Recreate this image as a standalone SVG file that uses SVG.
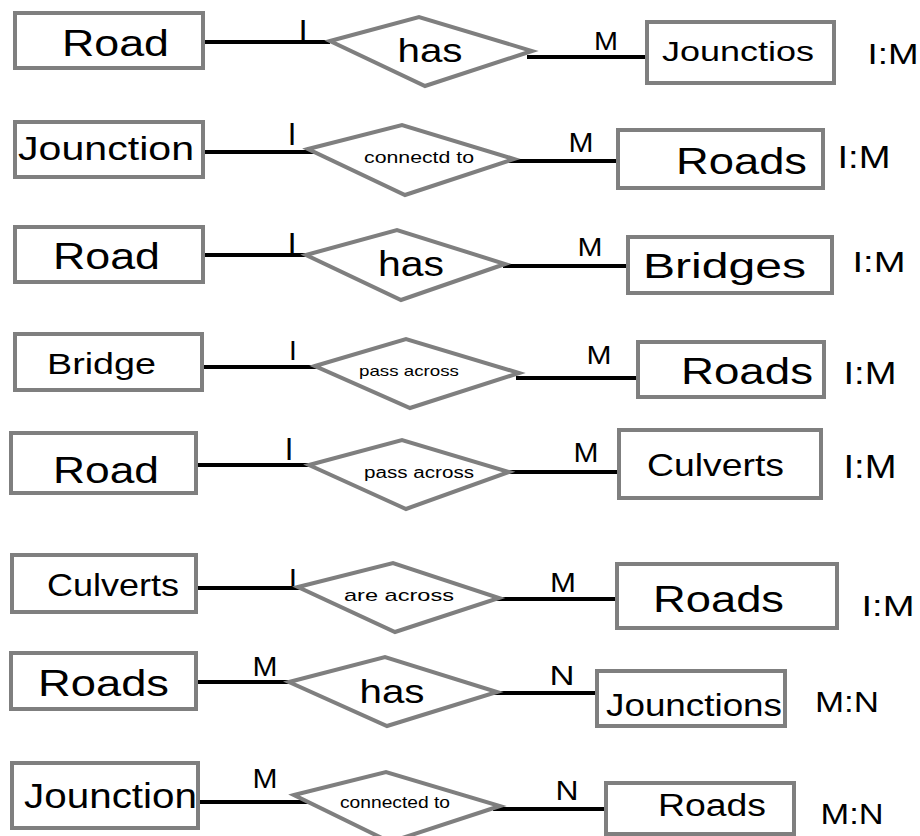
<svg xmlns="http://www.w3.org/2000/svg" width="920" height="836" viewBox="0 0 920 836">
<style>
.ent rect{fill:#fff;stroke:#7f7f7f;stroke-width:4}
.rel polygon{fill:#fff;stroke:#7f7f7f;stroke-width:4;stroke-linejoin:miter}
#connectors line{stroke:#000;stroke-width:4}
text{font-family:"Liberation Sans",Arial,sans-serif;fill:#000}
.lbl{text-anchor:middle}
</style>
<rect width="920" height="836" fill="#fff"/>
<g id="connectors">
<line x1="203" y1="42" x2="330" y2="42"/><line x1="527" y1="57" x2="648" y2="57"/>
<line x1="203" y1="152" x2="328" y2="152"/><line x1="503" y1="161" x2="625" y2="161"/>
<line x1="202" y1="255" x2="325" y2="255"/><line x1="503" y1="266" x2="630" y2="266"/>
<line x1="202" y1="367" x2="323" y2="367"/><line x1="516" y1="378" x2="639" y2="378"/>
<line x1="196" y1="465" x2="320" y2="465"/><line x1="504" y1="472" x2="625" y2="472"/>
<line x1="194" y1="588" x2="314" y2="588"/><line x1="496" y1="599" x2="616" y2="599"/>
<line x1="192" y1="682" x2="317" y2="682"/><line x1="481" y1="693" x2="601" y2="693"/>
<line x1="196" y1="802" x2="320" y2="802"/><line x1="493" y1="809" x2="616" y2="809"/>
</g>
<g id="card">
<text x="303" y="43" font-size="33" class="lbl">I</text>
<text x="606" y="50" font-size="26" class="lbl" textLength="24" lengthAdjust="spacingAndGlyphs">M</text>
<text x="292" y="145" font-size="31" class="lbl">I</text>
<text x="581" y="152" font-size="27" class="lbl" textLength="25" lengthAdjust="spacingAndGlyphs">M</text>
<text x="292" y="256" font-size="33" class="lbl">I</text>
<text x="590" y="256" font-size="26" class="lbl" textLength="25" lengthAdjust="spacingAndGlyphs">M</text>
<text x="293" y="360" font-size="28" class="lbl">I</text>
<text x="599" y="364" font-size="26" class="lbl" textLength="25" lengthAdjust="spacingAndGlyphs">M</text>
<text x="289" y="460" font-size="31" class="lbl">I</text>
<text x="586" y="462" font-size="27" class="lbl" textLength="25" lengthAdjust="spacingAndGlyphs">M</text>
<text x="293" y="589" font-size="30" class="lbl">I</text>
<text x="563" y="592" font-size="27" class="lbl" textLength="26" lengthAdjust="spacingAndGlyphs">M</text>
<text x="265" y="676" font-size="27" class="lbl" textLength="25" lengthAdjust="spacingAndGlyphs">M</text>
<text x="562" y="685" font-size="27" class="lbl" textLength="25" lengthAdjust="spacingAndGlyphs">N</text>
<text x="265" y="788" font-size="27" class="lbl" textLength="25" lengthAdjust="spacingAndGlyphs">M</text>
<text x="567" y="800" font-size="27" class="lbl" textLength="23" lengthAdjust="spacingAndGlyphs">N</text>
</g>
<g id="ratios">
<text x="893" y="64" font-size="30" class="lbl" textLength="51" lengthAdjust="spacingAndGlyphs">I:M</text>
<text x="864" y="168" font-size="32" class="lbl" textLength="53" lengthAdjust="spacingAndGlyphs">I:M</text>
<text x="879" y="272" font-size="30" class="lbl" textLength="53" lengthAdjust="spacingAndGlyphs">I:M</text>
<text x="870" y="384" font-size="31" class="lbl" textLength="53" lengthAdjust="spacingAndGlyphs">I:M</text>
<text x="870" y="478" font-size="33" class="lbl" textLength="53" lengthAdjust="spacingAndGlyphs">I:M</text>
<text x="888" y="616" font-size="30" class="lbl" textLength="53" lengthAdjust="spacingAndGlyphs">I:M</text>
<text x="847" y="712" font-size="30" class="lbl" textLength="64" lengthAdjust="spacingAndGlyphs">M:N</text>
<text x="852" y="824" font-size="30" class="lbl" textLength="63" lengthAdjust="spacingAndGlyphs">M:N</text>
</g>
<!-- Row 1 -->
<g id="e-road-1" class="ent"><rect x="15" y="13" width="188" height="55"/><text x="62" y="56" font-size="37" textLength="107" lengthAdjust="spacingAndGlyphs">Road</text></g>
<g id="r-has-1" class="rel"><polygon points="330,41 419,17 532,51 425,86"/><text x="430" y="62" font-size="33" class="lbl" textLength="65" lengthAdjust="spacingAndGlyphs">has</text></g>
<g id="e-jounctios-1" class="ent"><rect x="647" y="22" width="187" height="61"/><text x="662" y="61" font-size="28" textLength="152" lengthAdjust="spacingAndGlyphs">Jounctios</text></g>
<!-- Row 2 -->
<g id="e-jounction-2" class="ent"><rect x="15" y="122" width="188" height="55"/><text x="18" y="160" font-size="34" textLength="176" lengthAdjust="spacingAndGlyphs">Jounction</text></g>
<g id="r-connectd-2" class="rel"><polygon points="308,149 402,125 514,159 405,195"/><text x="419" y="163" font-size="16" class="lbl" textLength="110" lengthAdjust="spacingAndGlyphs">connectd to</text></g>
<g id="e-roads-2" class="ent"><rect x="618" y="130" width="205" height="58"/><text x="676" y="174" font-size="37" textLength="131" lengthAdjust="spacingAndGlyphs">Roads</text></g>
<!-- Row 3 -->
<g id="e-road-3" class="ent"><rect x="15" y="227" width="188" height="55"/><text x="53" y="269" font-size="37" textLength="107" lengthAdjust="spacingAndGlyphs">Road</text></g>
<g id="r-has-3" class="rel"><polygon points="306,255 397,230 505,264 401,300"/><text x="411" y="276" font-size="35" class="lbl" textLength="66" lengthAdjust="spacingAndGlyphs">has</text></g>
<g id="e-bridges-3" class="ent"><rect x="628" y="237" width="204" height="56"/><text x="643" y="278" font-size="35" textLength="163" lengthAdjust="spacingAndGlyphs">Bridges</text></g>
<!-- Row 4 -->
<g id="e-bridge-4" class="ent"><rect x="15" y="334" width="187" height="56"/><text x="47" y="374" font-size="30" textLength="109" lengthAdjust="spacingAndGlyphs">Bridge</text></g>
<g id="r-pass-4" class="rel"><polygon points="315,366 406,339 519,373 410,408"/><text x="409" y="376" font-size="15" class="lbl" textLength="100" lengthAdjust="spacingAndGlyphs">pass across</text></g>
<g id="e-roads-4" class="ent"><rect x="638" y="342" width="186" height="55"/><text x="681" y="384" font-size="37" textLength="132" lengthAdjust="spacingAndGlyphs">Roads</text></g>
<!-- Row 5 -->
<g id="e-road-5" class="ent"><rect x="11" y="433" width="185" height="60"/><text x="53" y="483" font-size="37" textLength="106" lengthAdjust="spacingAndGlyphs">Road</text></g>
<g id="r-pass-5" class="rel"><polygon points="309,465 402,440 509,472 406,509"/><text x="419" y="478" font-size="16" class="lbl" textLength="110" lengthAdjust="spacingAndGlyphs">pass across</text></g>
<g id="e-culverts-5" class="ent"><rect x="619" y="430" width="202" height="68"/><text x="647" y="476" font-size="32" textLength="137" lengthAdjust="spacingAndGlyphs">Culverts</text></g>
<!-- Row 6 -->
<g id="e-culverts-6" class="ent"><rect x="12" y="555" width="184" height="57"/><text x="47" y="596" font-size="32" textLength="132" lengthAdjust="spacingAndGlyphs">Culverts</text></g>
<g id="r-are-6" class="rel"><polygon points="298,587 393,563 499,598 395,632"/><text x="399" y="601" font-size="17" class="lbl" textLength="110" lengthAdjust="spacingAndGlyphs">are across</text></g>
<g id="e-roads-6" class="ent"><rect x="617" y="564" width="220" height="64"/><text x="653" y="612" font-size="36" textLength="131" lengthAdjust="spacingAndGlyphs">Roads</text></g>
<!-- Row 7 -->
<g id="e-roads-7" class="ent"><rect x="11" y="653" width="185" height="56"/><text x="38" y="696" font-size="37" textLength="131" lengthAdjust="spacingAndGlyphs">Roads</text></g>
<g id="r-has-7" class="rel"><polygon points="289,682 385,657 497,692 387,726"/><text x="392" y="703" font-size="33" class="lbl" textLength="65" lengthAdjust="spacingAndGlyphs">has</text></g>
<g id="e-jounctions-7" class="ent"><rect x="597" y="671" width="188" height="55"/><text x="606" y="716" font-size="32" textLength="176" lengthAdjust="spacingAndGlyphs">Jounctions</text></g>
<!-- Row 8 -->
<g id="e-jounction-8" class="ent"><rect x="12" y="763" width="186" height="65"/><text x="24" y="808" font-size="35" textLength="173" lengthAdjust="spacingAndGlyphs">Jounction</text></g>
<g id="r-connected-8" class="rel"><polygon points="294,795 386,772 500,806 390,842"/><text x="395" y="808" font-size="16" class="lbl" textLength="110" lengthAdjust="spacingAndGlyphs">connected to</text></g>
<g id="e-roads-8" class="ent"><rect x="606" y="783" width="188" height="51"/><text x="658" y="816" font-size="31" textLength="108" lengthAdjust="spacingAndGlyphs">Roads</text></g>
</svg>
